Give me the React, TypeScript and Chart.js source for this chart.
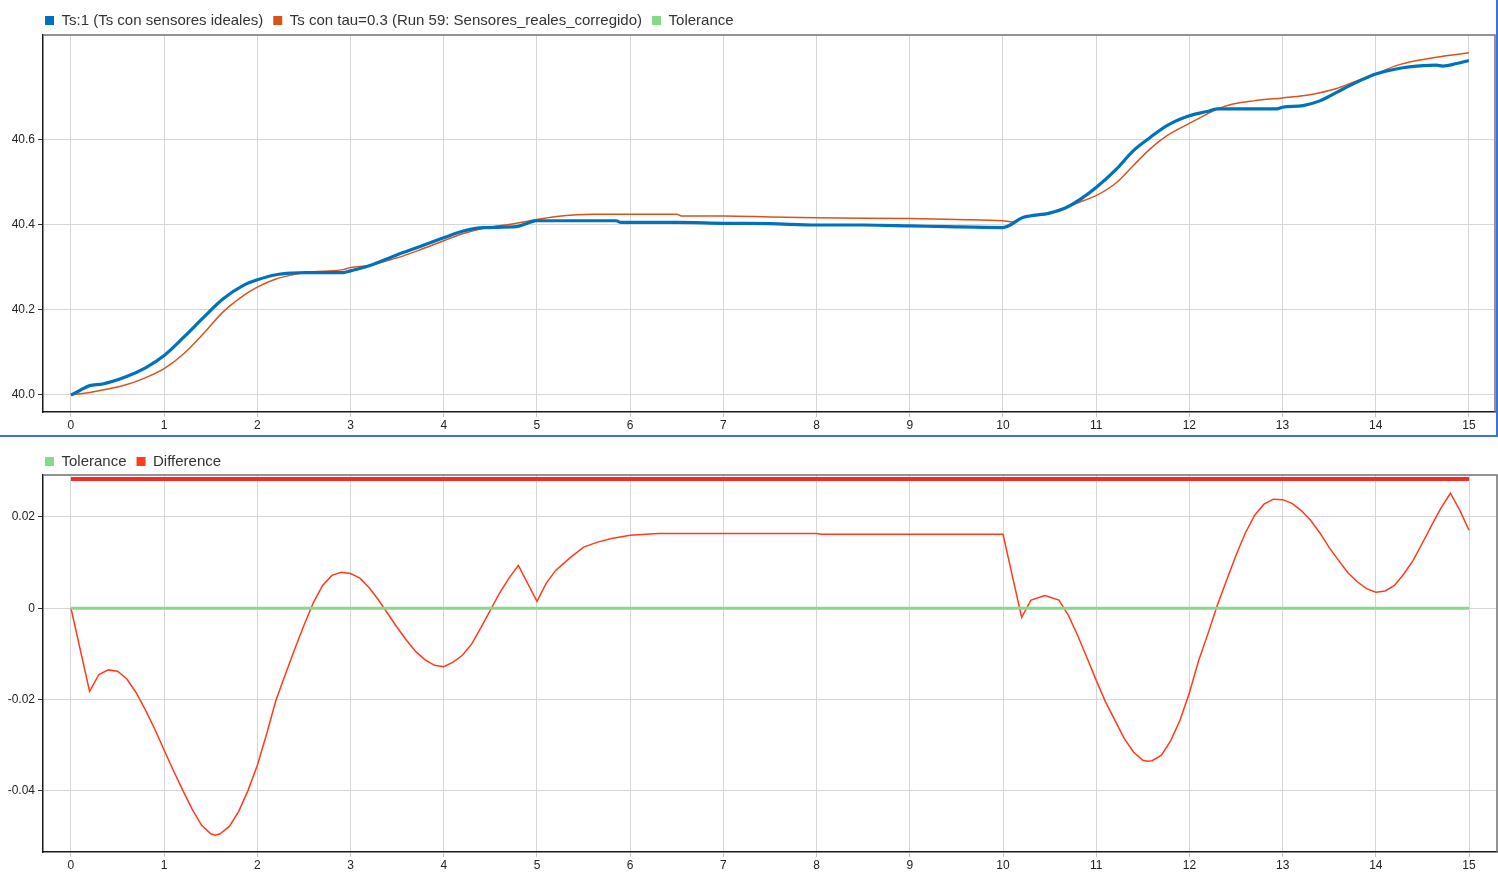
import React, { useEffect, useRef } from "react";
import { Chart, registerables } from "chart.js";

Chart.register(...registerables);

// ---------- data ----------
const xTicks = [0, 1, 2, 3, 4, 5, 6, 7, 8, 9, 10, 11, 12, 13, 14, 15];
const topYTicks = [40.0, 40.2, 40.4, 40.6];
const bottomYTicks = [-0.04, -0.02, 0, 0.02];

const topLegend = [
  "Ts:1 (Ts con sensores ideales)",
  "Ts con tau=0.3 (Run 59: Sensores_reales_corregido)",
  "Tolerance",
];
const bottomLegend = ["Tolerance", "Difference"];

const ts1Time = [
  0, 0.09, 0.2, 0.34, 0.59, 0.8, 1.0, 1.21, 1.42, 1.63, 1.85, 2.0, 2.2, 2.38, 2.52, 2.92, 3.0, 3.2, 3.49, 3.74,
  4.0, 4.21, 4.43, 4.78, 4.92, 5.0, 5.85, 5.9, 6.5, 7.0, 7.5, 8.0, 8.5, 9.0, 9.4, 10.0, 10.22, 10.5, 10.68, 10.86,
  11.0, 11.22, 11.4, 11.58, 11.76, 12.0, 12.19, 12.3, 12.94, 13.0, 13.22, 13.4, 13.58, 13.76, 14.0, 14.22, 14.36,
  14.65, 14.72, 14.87, 15.0,
];
const ts1Values = [
  40.0, 40.01, 40.022, 40.026, 40.043, 40.064, 40.093, 40.136, 40.182, 40.226, 40.258, 40.271, 40.283, 40.287,
  40.288, 40.288, 40.292, 40.304, 40.329, 40.349, 40.37, 40.386, 40.394, 40.396, 40.406, 40.41, 40.41, 40.406,
  40.406, 40.404, 40.403, 40.4, 40.4, 40.398, 40.396, 40.394, 40.418, 40.428, 40.441, 40.465, 40.488, 40.532,
  40.575, 40.606, 40.634, 40.657, 40.667, 40.673, 40.673, 40.677, 40.681, 40.692, 40.712, 40.732, 40.755, 40.767,
  40.772, 40.776, 40.774, 40.78, 40.787,
];

const tauTime = [
  0, 0.23, 0.59, 0.77, 1.0, 1.21, 1.42, 1.63, 1.85, 2.0, 2.2, 2.38, 2.52, 2.92, 3.0, 3.2, 3.49, 3.74, 4.0, 4.21,
  4.43, 4.78, 5.0, 5.21, 5.43, 5.6, 6.5, 6.55, 7.0, 7.5, 8.0, 9.0, 9.5, 10.0, 10.1, 10.22, 10.5, 10.68, 10.86,
  11.0, 11.22, 11.4, 11.58, 11.76, 12.0, 12.19, 12.3, 12.48, 12.69, 13.0, 13.22, 13.4, 13.58, 13.76, 14.0, 14.22,
  14.47, 14.72, 15.0,
];
const tauValues = [
  40.0, 40.007, 40.024, 40.038, 40.062, 40.097, 40.144, 40.195, 40.234, 40.254, 40.273, 40.283, 40.289, 40.295,
  40.3, 40.305, 40.322, 40.341, 40.363, 40.38, 40.392, 40.404, 40.413, 40.42, 40.424, 40.425, 40.425, 40.421,
  40.421, 40.419, 40.417, 40.415, 40.413, 40.41, 40.407, 40.418, 40.429, 40.441, 40.457, 40.469, 40.5, 40.54,
  40.579, 40.61, 40.639, 40.661, 40.673, 40.685, 40.692, 40.699, 40.704, 40.711, 40.721, 40.736, 40.755, 40.775,
  40.788, 40.797, 40.805,
];

const diffTime = [
  0, 0.2, 0.3, 0.4, 0.5, 0.6, 0.7, 0.8, 0.9, 1.0, 1.1, 1.2, 1.3, 1.4, 1.5, 1.55, 1.6, 1.7, 1.8, 1.9, 2.0, 2.1,
  2.2, 2.3, 2.4, 2.5, 2.6, 2.7, 2.8, 2.9, 3.0, 3.1, 3.2, 3.3, 3.4, 3.5, 3.6, 3.7, 3.8, 3.9, 4.0, 4.1, 4.2, 4.3,
  4.4, 4.5, 4.6, 4.7, 4.8, 5.0, 5.1, 5.2, 5.35, 5.5, 5.65, 5.8, 6.0, 6.3, 8.0, 8.05, 10.0, 10.2, 10.3, 10.45,
  10.6, 10.7, 10.8, 10.9, 11.0, 11.1, 11.2, 11.3, 11.4, 11.5, 11.55, 11.6, 11.7, 11.8, 11.9, 12.0, 12.1, 12.2,
  12.3, 12.4, 12.5, 12.6, 12.7, 12.8, 12.9, 13.0, 13.1, 13.2, 13.3, 13.4, 13.5, 13.6, 13.7, 13.8, 13.9, 14.0,
  14.1, 14.2, 14.3, 14.4, 14.5, 14.6, 14.7, 14.8, 14.9, 15.0,
];
const diffValues = [
  0, -0.0182, -0.0145, -0.0135, -0.0138, -0.0155, -0.0185, -0.0223, -0.0265, -0.0311, -0.0356, -0.0399, -0.044,
  -0.0475, -0.0494, -0.0497, -0.0494, -0.0478, -0.0445, -0.0399, -0.0344, -0.0275, -0.0201, -0.0145, -0.009,
  -0.0037, 0.0012, 0.005, 0.0072, 0.0079, 0.0076, 0.0066, 0.0045, 0.0018, -0.0012, -0.0042, -0.007, -0.0095,
  -0.0113, -0.0125, -0.0128, -0.0118, -0.0103, -0.0078, -0.0042, -0.0004, 0.0034, 0.0066, 0.0094, 0.0015,
  0.0055, 0.0083, 0.011, 0.0134, 0.0145, 0.0153, 0.016, 0.0164, 0.0164, 0.0162, 0.0162, -0.002, 0.0018, 0.0028,
  0.0018, -0.0015, -0.0059, -0.0108, -0.0158, -0.0205, -0.0245, -0.0285, -0.0315, -0.0333, -0.0335, -0.0334,
  -0.0322, -0.029, -0.0245, -0.0185, -0.0114, -0.0055, 0.0007, 0.0062, 0.0116, 0.0165, 0.0204, 0.0228, 0.0239,
  0.0238, 0.023, 0.0214, 0.0193, 0.0165, 0.0133, 0.0105, 0.0078, 0.0058, 0.0043, 0.0035, 0.0038, 0.005, 0.0075,
  0.0105, 0.0143, 0.0182, 0.022, 0.0252, 0.0215, 0.0171,
];

const toleranceTime = [0, 15];
const toleranceValues = [0, 0];
const outOfToleranceTime = [0, 15];
const outOfToleranceValues = [0.0283, 0.0283];

// ---------- styling ----------
const FONT = "'Liberation Sans', Arial, Helvetica, sans-serif";
const BLUE = "#0072BD";
const ORANGE = "#D95319";
const GREEN = "#86DA86";
const RED = "#FF3B1A";
const GRID = "#d6d6d6";

const pts = (t: number[], v: number[]) => t.map((x, i) => ({ x, y: v[i] }));

const framePlugin = {
  id: "frame",
  afterDatasetsDraw(chart: any) {
    const { ctx, chartArea: a } = chart;
    ctx.save();
    ctx.strokeStyle = "#707070";
    ctx.lineWidth = 1.5;
    ctx.beginPath();
    ctx.moveTo(a.left, a.top);
    ctx.lineTo(a.right, a.top);
    ctx.lineTo(a.right, a.bottom);
    ctx.stroke();
    ctx.restore();
  },
};

function legendShift(dx: number, dy: number) {
  return {
    id: "legendShift",
    afterLayout(chart: any) {
      const l = chart.legend;
      if (!l) return;
      l.left += dx;
      l.right += dx;
      l.top += dy;
      l.bottom += dy;
    },
  };
}

function makeOptions(cfg: {
  yMin: number;
  yMax: number;
  yTicks: number[];
  yFmt: (v: number) => string;
  xMax: number;
  xAxisHeight: number;
  padTop: number;
}) {
  return {
    animation: false,
    responsive: false,
    maintainAspectRatio: false,
    layout: { padding: { left: 0, right: 1, top: cfg.padTop, bottom: 0 } },
    plugins: {
      tooltip: { enabled: false },
      legend: {
        display: true,
        position: "top",
        align: "start",
        labels: {
          boxWidth: 9,
          boxHeight: 9,
          padding: 10,
          color: "#333",
          font: { family: FONT, size: 15 },
          filter: (item: any) => !!item.text,
          generateLabels: (chart: any) => {
            const items = (Chart.defaults.plugins.legend.labels as any).generateLabels(chart);
            return items.map((it: any) => ({
              ...it,
              lineWidth: 0,
              strokeStyle: "rgba(0,0,0,0)",
              fillStyle: chart.data.datasets[it.datasetIndex].borderColor,
            }));
          },
        },
      },
    },
    scales: {
      x: {
        type: "linear",
        min: -0.3,
        max: cfg.xMax,
        afterBuildTicks: (axis: any) => {
          axis.ticks = xTicks.map((v) => ({ value: v }));
        },
        afterFit: (scale: any) => {
          scale.height = cfg.xAxisHeight;
        },
        ticks: {
          color: "#222",
          padding: 1,
          maxRotation: 0,
          autoSkip: false,
          font: { family: FONT, size: 12 },
          callback: (v: any) => String(v),
        },
        grid: { color: GRID, lineWidth: 1, tickColor: "#c8c8c8", tickLength: 5, drawTicks: true },
        border: { color: "#1a1a1a", width: 1.5 },
      },
      y: {
        type: "linear",
        min: cfg.yMin,
        max: cfg.yMax,
        afterBuildTicks: (axis: any) => {
          axis.ticks = cfg.yTicks.map((v) => ({ value: v }));
        },
        afterFit: (scale: any) => {
          scale.width = 43;
        },
        ticks: {
          color: "#222",
          padding: 3,
          autoSkip: false,
          font: { family: FONT, size: 12 },
          callback: (v: any) => cfg.yFmt(Number(v)),
        },
        grid: { color: GRID, lineWidth: 1, tickColor: "#333", tickLength: 5, drawTicks: true },
        border: { color: "#1a1a1a", width: 1.5 },
      },
    },
    elements: { point: { radius: 0 } },
  } as any;
}

function TopChart() {
  const ref = useRef<HTMLCanvasElement>(null);
  useEffect(() => {
    if (!ref.current) return;
    const chart = new Chart(ref.current, {
      type: "line",
      data: {
        datasets: [
          {
            label: topLegend[0],
            data: pts(ts1Time, ts1Values),
            borderColor: BLUE,
            backgroundColor: BLUE,
            borderWidth: 3.2,
            cubicInterpolationMode: "monotone",
          },
          {
            label: topLegend[1],
            data: pts(tauTime, tauValues),
            borderColor: ORANGE,
            backgroundColor: ORANGE,
            borderWidth: 1.5,
            cubicInterpolationMode: "monotone",
          },
          {
            label: topLegend[2],
            data: [],
            borderColor: GREEN,
            backgroundColor: GREEN,
            borderWidth: 1,
          },
        ],
      },
      options: makeOptions({
        yMin: 39.96,
        yMax: 40.847,
        yTicks: topYTicks,
        yFmt: (v) => v.toFixed(1),
        xMax: 15.28,
        xAxisHeight: 23,
        padTop: 0,
      }),
      plugins: [framePlugin, legendShift(35, 3)],
    } as any);
    return () => chart.destroy();
  }, []);
  return <canvas ref={ref} width={1496} height={435} style={{ display: "block" }} />;
}

function BottomChart() {
  const ref = useRef<HTMLCanvasElement>(null);
  useEffect(() => {
    if (!ref.current) return;
    const chart = new Chart(ref.current, {
      type: "line",
      data: {
        datasets: [
          {
            label: bottomLegend[0],
            data: pts(toleranceTime, toleranceValues),
            borderColor: GREEN,
            backgroundColor: GREEN,
            borderWidth: 3,
          },
          {
            label: bottomLegend[1],
            data: pts(diffTime, diffValues),
            borderColor: RED,
            backgroundColor: RED,
            borderWidth: 1.5,
            tension: 0,
          },
          {
            label: "",
            data: pts(outOfToleranceTime, outOfToleranceValues),
            borderColor: "#F22A2A",
            backgroundColor: "#F22A2A",
            borderWidth: 4,
          },
        ],
      },
      options: makeOptions({
        yMin: -0.0534,
        yMax: 0.0292,
        yTicks: bottomYTicks,
        yFmt: (v) => (Math.abs(v) < 1e-12 ? "0" : v.toFixed(2)),
        xMax: 15.3,
        xAxisHeight: 20,
        padTop: 3,
      }),
      plugins: [framePlugin, legendShift(35, 4)],
    } as any);
    return () => chart.destroy();
  }, []);
  return <canvas ref={ref} width={1498} height={435} style={{ display: "block" }} />;
}

export default function App() {
  return (
    <div style={{ position: "absolute", left: 0, top: 0, width: 1498, height: 872, background: "#fff" }}>
      <div
        style={{
          width: 1498,
          height: 437,
          boxSizing: "border-box",
          borderRight: "2px solid #3F6FE4",
          borderBottom: "2px solid #3F6FE4",
        }}
      >
        <TopChart />
      </div>
      <BottomChart />
    </div>
  );
}
